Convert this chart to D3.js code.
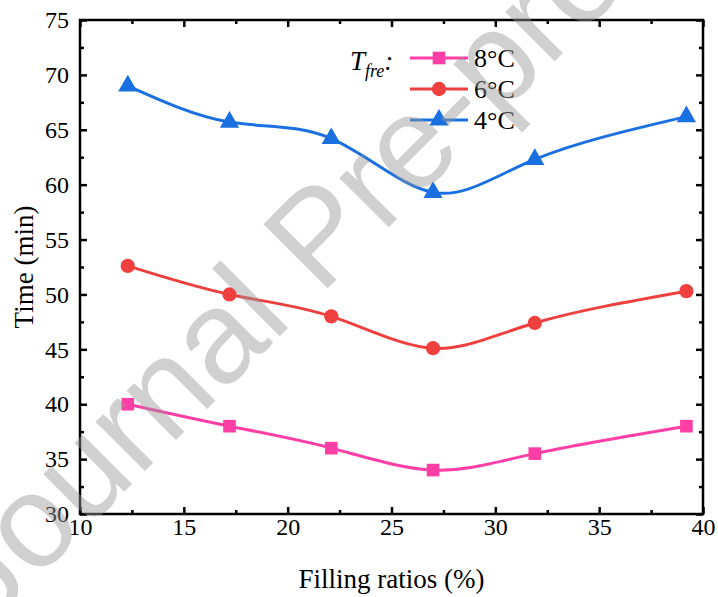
<!DOCTYPE html>
<html>
<head>
<meta charset="utf-8">
<script src="https://cdn.jsdelivr.net/npm/d3@7"></script>
<style>
  html, body { margin: 0; padding: 0; background: #fff; }
  svg { display: block; }
</style>
</head>
<body>
<svg id="chart" width="718" height="597"></svg>
<script>
// Filling ratio (%) at which the freezing time was measured
const fillingRatios = [12.3, 17.2, 22.1, 27.0, 31.9, 39.2];
// Freezing time (min) for each freezing temperature
const time8C = [40.0, 38.0, 36.0, 34.0, 35.5, 38.0];
const time6C = [52.6, 50.0, 48.0, 45.1, 47.4, 50.3];
const time4C = [69.0, 65.7, 64.2, 59.3, 62.3, 66.2];
const seriesLabels = ["8°C", "6°C", "4°C"];
const xTicks = [10, 15, 20, 25, 30, 35, 40];
const yTicks = [30, 35, 40, 45, 50, 55, 60, 65, 70, 75];

const series = [
  { label: seriesLabels[0], values: time8C, color: "#ff3fa6", marker: "square" },
  { label: seriesLabels[1], values: time6C, color: "#ef4040", marker: "circle" },
  { label: seriesLabels[2], values: time4C, color: "#1a70e0", marker: "triangle" }
];

const svg = d3.select("#chart");
const m = { left: 80, right: 703, top: 20, bottom: 514 };
const serif = "'Liberation Serif', 'Times New Roman', serif";

const x = d3.scaleLinear().domain([10, 40]).range([m.left, m.right]);
const y = d3.scaleLinear().domain([30, 75]).range([m.bottom, m.top]);

const minorX = d3.range(12.5, 40, 5);
const minorY = d3.range(32.5, 75, 5);

// Inward ticks on all four sides
function tickAxis(axisGen, ticks, minor, transform, labels) {
  const g = svg.append("g").attr("transform", transform);
  g.call(axisGen.tickValues(ticks).tickSizeInner(-7).tickSizeOuter(0)
    .tickFormat(labels ? d3.format("d") : ""));
  g.select(".domain").remove();
  g.selectAll(".tick line").attr("stroke", "#000").attr("stroke-width", 2.5);
  g.selectAll(".tick text").attr("font-family", serif).attr("font-size", 24).attr("fill", "#000");
  const gm = svg.append("g").attr("transform", transform);
  gm.call(axisGen.tickValues(minor).tickSizeInner(-4).tickSizeOuter(0).tickFormat(""));
  gm.select(".domain").remove();
  gm.selectAll(".tick line").attr("stroke", "#000").attr("stroke-width", 2.5);
  return g;
}

const gxB = tickAxis(d3.axisBottom(x), xTicks, minorX, `translate(0,${m.bottom})`, true);
gxB.selectAll(".tick text").attr("y", 4).attr("dy", "0.71em");
tickAxis(d3.axisTop(x), xTicks, minorX, `translate(0,${m.top})`, false);
const gyL = tickAxis(d3.axisLeft(y), yTicks, minorY, `translate(${m.left},0)`, true);
gyL.selectAll(".tick text").attr("x", -11);
tickAxis(d3.axisRight(y), yTicks, minorY, `translate(${m.right},0)`, false);

// Frame
svg.append("rect")
  .attr("x", m.left).attr("y", m.top)
  .attr("width", m.right - m.left).attr("height", m.bottom - m.top)
  .attr("fill", "none").attr("stroke", "#000").attr("stroke-width", 2.5);

// Axis titles
svg.append("text")
  .attr("x", (m.left + m.right) / 2).attr("y", 588)
  .attr("text-anchor", "middle").attr("font-family", serif).attr("font-size", 27)
  .text("Filling ratios (%)");
svg.append("text")
  .attr("transform", `translate(33,${(m.top + m.bottom) / 2}) rotate(-90)`)
  .attr("text-anchor", "middle").attr("font-family", serif).attr("font-size", 27)
  .text("Time (min)");

// Marker shapes
const symbolFor = {
  square: d3.symbol(d3.symbolSquare, 160),
  circle: d3.symbol(d3.symbolCircle, 160),
  triangle: d3.symbol(d3.symbolTriangle, 160)
};

const line = d3.line()
  .x((d, i) => x(fillingRatios[i]))
  .y(d => y(d))
  .curve(d3.curveNatural);

const plot = svg.append("g");
series.forEach(s => {
  plot.append("path")
    .attr("d", line(s.values))
    .attr("fill", "none").attr("stroke", s.color).attr("stroke-width", 3);
  plot.selectAll(null).data(s.values).enter().append("path")
    .attr("d", symbolFor[s.marker]())
    .attr("transform", (d, i) => `translate(${x(fillingRatios[i])},${y(d)})`)
    .attr("fill", s.color);
});

// Legend
const legend = svg.append("g");
const lt = legend.append("text")
  .attr("x", 350).attr("y", 70)
  .attr("font-family", serif).attr("font-style", "italic").attr("font-size", 27);
lt.append("tspan").text("T");
lt.append("tspan").attr("font-size", 18).attr("dy", 7).text("fre");
lt.append("tspan").attr("dy", -7).text(":");

series.forEach((s, i) => {
  const ly = 58 + i * 31;
  legend.append("line")
    .attr("x1", 410).attr("x2", 468).attr("y1", ly).attr("y2", ly)
    .attr("stroke", s.color).attr("stroke-width", 3);
  legend.append("path")
    .attr("d", symbolFor[s.marker]())
    .attr("transform", `translate(439,${ly})`)
    .attr("fill", s.color);
  legend.append("text")
    .attr("x", 474).attr("y", ly + 9)
    .attr("font-family", serif).attr("font-size", 26)
    .text(s.label);
});

// Diagonal watermark
svg.append("text")
  .attr("transform", "translate(-12,628) rotate(-45)")
  .attr("font-family", "'Liberation Sans', Arial, sans-serif")
  .attr("font-size", 132)
  .attr("fill", "rgb(150,150,150)")
  .attr("fill-opacity", 0.45)
  .text("Journal Pre-proof");
</script>
</body>
</html>
